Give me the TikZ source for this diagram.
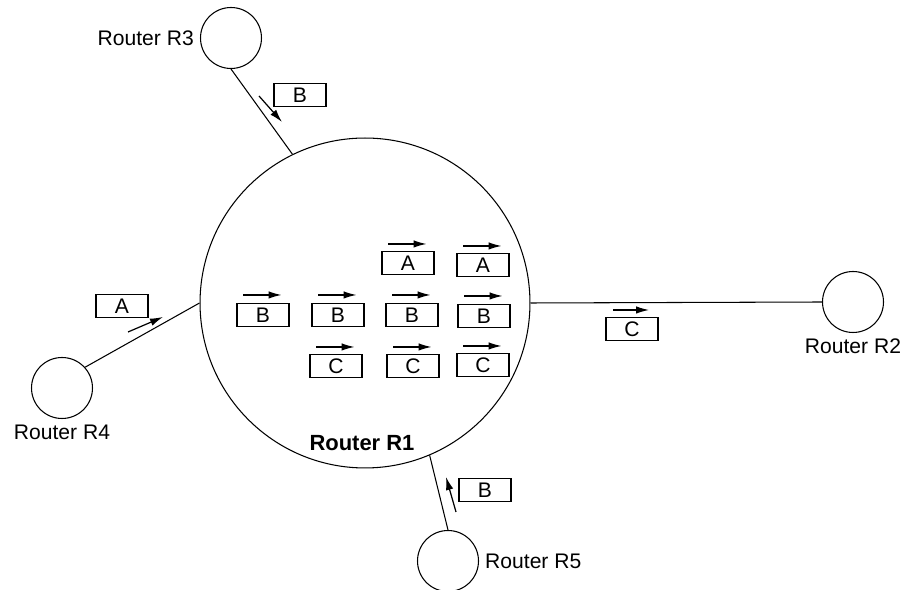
\documentclass[tikz,border=0pt]{standalone}
\usepackage{fontspec}
\setmainfont{Liberation Sans}
\usetikzlibrary{arrows.meta}

\begin{document}
\begin{tikzpicture}[x=0.02cm,y=-0.02cm,
    router/.style={draw=black,line width=0.6pt,circle,inner sep=0pt,minimum size=1.22cm},
    pkt/.style={draw=black,line width=0.6pt,inner sep=0pt,minimum width=1.04cm,minimum height=0.46cm,font=\fontsize{12}{14}\selectfont},
    lbl/.style={font=\fontsize{12}{14}\selectfont},
    flow/.style={line width=0.7pt,-{Latex[length=0.26cm,width=0.15cm]}}]
                \useasboundingbox (0,0) rectangle (903,590);

                % routers
                \node[router,minimum size=6.6cm] (R1) at (365,303) {};
                \node[router] (R2) at (853,302) {};
                \node[router] (R3) at (231,38) {};
                \node[router] (R4) at (62,388) {};
                \node[router] (R5) at (448,561) {};

                \node[lbl,font=\fontsize{12.5}{14}\bfseries] at (362,443) {Router R1};
                \node[lbl,below] at (R2.south) {Router R2};
                \node[lbl,left] at (R3.west) {Router R3};
                \node[lbl,below] at (R4.south) {Router R4};
                \node[lbl,right] at (R5.east) {Router R5};

                % links
                \draw [line width=0.6pt] (R1.east) -- (R2.west);
                \draw [line width=0.6pt] (R3.south) -- (R1.116);
                \draw [line width=0.6pt] (R4.42) -- (R1.west);
                \draw [line width=0.6pt] (R5.north) -- (R1.293);

                % queued packets in R1
                \node[pkt] (a1) at (408,263) {A};
                \node[pkt] (a2) at (483,265) {A};
                \node[pkt] (b1) at (263,315) {B};
                \node[pkt] (b2) at (338,315) {B};
                \node[pkt] (b3) at (412,315) {B};
                \node[pkt] (b4) at (484,316) {B};
                \node[pkt] (c1) at (336,366) {C};
                \node[pkt] (c2) at (413,366) {C};
                \node[pkt] (c3) at (483,365) {C};

                \draw [flow] ([shift={(7,-7)}]a1.north west) -- ([shift={(-8,-7)}]a1.north east);
                \draw [flow] ([shift={(7,-7)}]a2.north west) -- ([shift={(-8,-7)}]a2.north east);
                \draw [flow] ([shift={(7,-8)}]b1.north west) -- ([shift={(-8,-8)}]b1.north east);
                \draw [flow] ([shift={(7,-8)}]b2.north west) -- ([shift={(-8,-8)}]b2.north east);
                \draw [flow] ([shift={(7,-8)}]b3.north west) -- ([shift={(-8,-8)}]b3.north east);
                \draw [flow] ([shift={(7,-8)}]b4.north west) -- ([shift={(-8,-8)}]b4.north east);
                \draw [flow] ([shift={(7,-7)}]c1.north west) -- ([shift={(-8,-7)}]c1.north east);
                \draw [flow] ([shift={(7,-7)}]c2.north west) -- ([shift={(-8,-7)}]c2.north east);
                \draw [flow] ([shift={(7,-7)}]c3.north west) -- ([shift={(-8,-7)}]c3.north east);

                % packets on the links
                \node[pkt] (p2) at (632,329) {C};
                \node[pkt] (p3) at (300,95) {B};
                \node[pkt] (p4) at (122,306) {A};
                \node[pkt] (p5) at (485,490) {B};

                \coordinate (s2) at (613,310);
                \coordinate (e2) at (649,310);
                \coordinate (s3) at (259,96);
                \coordinate (e3) at (282,122);
                \coordinate (s4) at (128,332);
                \coordinate (e4) at (163,317);
                \coordinate (s5) at (456,512);
                \coordinate (e5) at (446,477);

                \draw [flow] (s2) -- (e2);
                \draw [flow] (s3) -- (e3);
                \draw [flow] (s4) -- (e4);
                \draw [flow] (s5) -- (e5);
\end{tikzpicture}
\end{document}
